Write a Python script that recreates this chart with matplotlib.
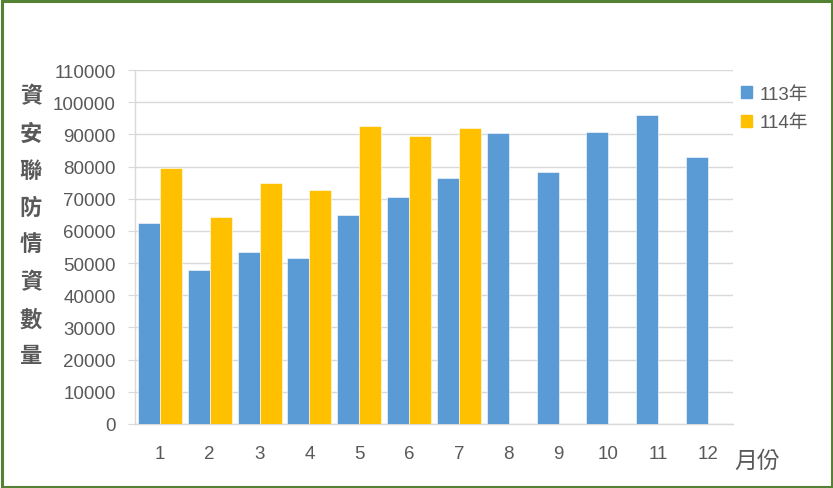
import matplotlib
matplotlib.use("Agg")
import matplotlib.pyplot as plt
from matplotlib.patches import Rectangle, Patch
import numpy as np

plt.rcParams['font.family'] = ['Liberation Sans', 'Noto Sans CJK TC', 'DejaVu Sans']

months = [str(m) for m in range(1, 13)]
vals_113 = [62500, 47900, 53400, 51500, 64800, 70600, 76500, 90400, 78300, 90700, 96000, 82900]
vals_114 = [79400, 64400, 75000, 72700, 92600, 89500, 92100]
series_names = ["113年", "114年"]
ylabel_chars = "資安聯防情資數量"
xlabel_text = "月份"
yticks = list(range(0, 110001, 10000))

blue = "#5B9BD5"
gold = "#FFC000"
grey_txt = "#595959"
grid_c = "#D9D9D9"

W, H = 833, 489
fig = plt.figure(figsize=(W / 100, H / 100), dpi=100)
ax = fig.add_axes([135 / W, (H - 425) / H, 598 / W, 354 / H])

x = np.arange(len(months))
w = 0.442
ax.bar(x - w / 2, vals_113, width=w, color=blue, edgecolor="white", linewidth=0.4, zorder=3)
ax.bar(x[:len(vals_114)] + w / 2, vals_114, width=w, color=gold, edgecolor="white", linewidth=0.4, zorder=3)

ax.set_xlim(-0.5, len(months) - 0.5)
ax.set_ylim(0, 110000)
ax.set_yticks(yticks)
ax.set_yticklabels([str(v) for v in yticks])
ax.set_xticks(x)
ax.set_xticklabels(months)
ax.yaxis.grid(True, color=grid_c, linewidth=1.0, zorder=0)
ax.set_axisbelow(True)
for s in ["top", "right"]:
    ax.spines[s].set_visible(False)
for s in ["left", "bottom"]:
    ax.spines[s].set_color(grid_c)
    ax.spines[s].set_linewidth(1.0)
ax.tick_params(axis="y", length=5, color=grid_c, pad=9, labelsize=13.5, labelcolor=grey_txt)
ax.tick_params(axis="x", length=0, pad=15, labelsize=13.5, labelcolor=grey_txt)

# vertical stacked y label
y0, y1 = 97, 357
n = len(ylabel_chars)
for i, ch in enumerate(ylabel_chars):
    yy = y0 + (y1 - y0) * i / (n - 1)
    fig.text(31 / W, 1 - yy / H, ch, ha="center", va="center", fontsize=16,
             fontweight="bold", color=grey_txt, family=['Noto Sans CJK TC'])

fig.text(757 / W, 1 - 461 / H, xlabel_text, ha="center", va="center", fontsize=16.5,
         color=grey_txt, family=['Noto Sans CJK TC'])

handles = [Patch(facecolor=blue, edgecolor=blue), Patch(facecolor=gold, edgecolor=gold)]
ax.legend(handles, series_names, loc="upper left", bbox_to_anchor=(741 / W, 1 - 87 / H),
          bbox_transform=fig.transFigure, frameon=False, fontsize=13.5,
          handlelength=0.6, handleheight=0.6, handletextpad=0.4, labelspacing=0.6,
          labelcolor=grey_txt, borderaxespad=0, borderpad=0)

fig.patches.append(Rectangle((1.5 / W, 1.5 / H), (W - 3) / W, (H - 3) / H, transform=fig.transFigure,
                             fill=False, edgecolor="#548235", linewidth=2.2, zorder=10))

fig.savefig("out.png", dpi=100)
